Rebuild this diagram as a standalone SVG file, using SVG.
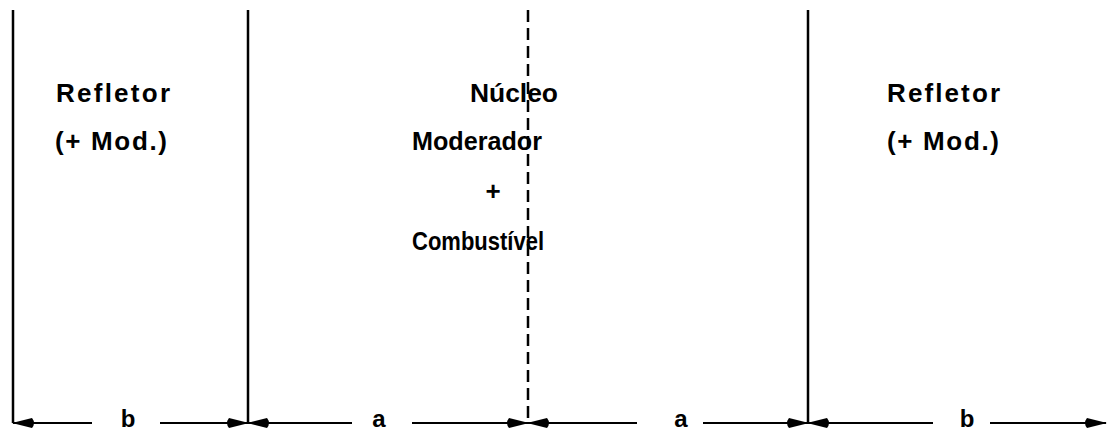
<svg xmlns="http://www.w3.org/2000/svg" width="1109" height="432" viewBox="0 0 1109 432">
<style>
.t{font-family:"Liberation Sans",Arial,sans-serif;font-size:26px;font-weight:bold;fill:#000}
.l{font-family:"Liberation Sans",Arial,sans-serif;font-size:24px;font-weight:bold;fill:#000}
.v{stroke:#000;stroke-width:2.5;fill:none}
.d{stroke:#000;stroke-width:2.2;fill:none}
</style>
<defs>
<marker id="ah" viewBox="0 0 24 11" refX="23" refY="5.5" markerWidth="24" markerHeight="11" markerUnits="userSpaceOnUse" orient="auto-start-reverse">
<path d="M24,5.5 L4,0.5 Q0,5.5 4,10.5 Z" fill="#000"/>
</marker>
</defs>
<rect width="1109" height="432" fill="#fff"/>
<g id="walls">
<line class="v" x1="13" y1="10" x2="13" y2="423"/>
<line class="v" x1="248" y1="10" x2="248" y2="423"/>
<line class="v" x1="808" y1="10" x2="808" y2="423"/>
<line class="v" x1="528" y1="10" x2="528" y2="423" stroke-dasharray="12 6"/>
</g>
<g id="refletor-left">
<text class="t" x="56" y="102" textLength="114" lengthAdjust="spacing">Refletor</text>
<text class="t" x="55" y="150" textLength="112" lengthAdjust="spacing">(+ Mod.)</text>
</g>
<g id="nucleo">
<text class="t" x="470" y="102" textLength="88" lengthAdjust="spacingAndGlyphs">Núcleo</text>
<text class="t" x="412" y="150" textLength="130" lengthAdjust="spacingAndGlyphs">Moderador</text>
<text class="t" x="493" y="200" text-anchor="middle">+</text>
<text class="t" x="412" y="250" textLength="132" lengthAdjust="spacingAndGlyphs">Combustível</text>
</g>
<g id="refletor-right">
<text class="t" x="887" y="102" textLength="113" lengthAdjust="spacing">Refletor</text>
<text class="t" x="887" y="150" textLength="112" lengthAdjust="spacing">(+ Mod.)</text>
</g>
<g id="connectors">
<line class="d" x1="13" y1="423" x2="92" y2="423" marker-start="url(#ah)"/>
<line class="d" x1="160" y1="423" x2="248" y2="423" marker-end="url(#ah)"/>
<line class="d" x1="248" y1="423" x2="352" y2="423" marker-start="url(#ah)"/>
<line class="d" x1="412" y1="423" x2="528" y2="423" marker-end="url(#ah)"/>
<line class="d" x1="528" y1="423" x2="637" y2="423" marker-start="url(#ah)"/>
<line class="d" x1="703" y1="423" x2="808" y2="423" marker-end="url(#ah)"/>
<line class="d" x1="808" y1="423" x2="933" y2="423" marker-start="url(#ah)"/>
<line class="d" x1="990" y1="423" x2="1106" y2="423" marker-end="url(#ah)"/>
</g>
<g id="labels">
<text class="l" x="128" y="427" text-anchor="middle">b</text>
<text class="l" x="379" y="427" text-anchor="middle">a</text>
<text class="l" x="681" y="427" text-anchor="middle">a</text>
<text class="l" x="967" y="427" text-anchor="middle">b</text>
</g>
</svg>
